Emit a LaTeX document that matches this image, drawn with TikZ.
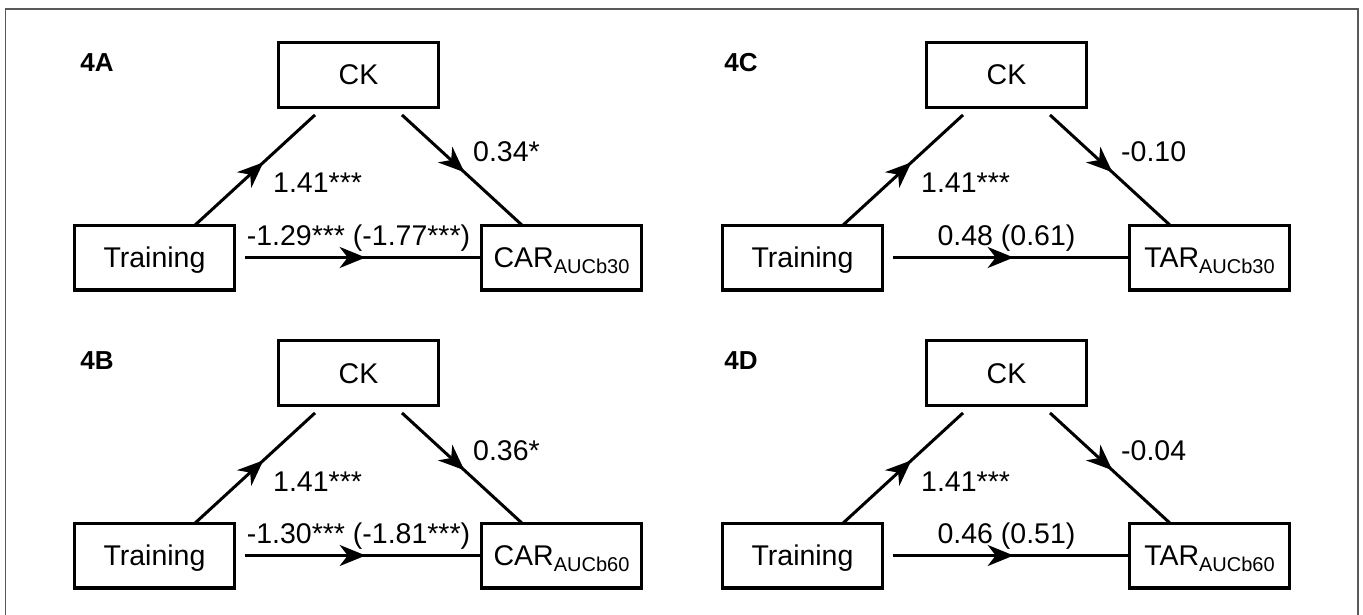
\documentclass[tikz,border=0pt]{standalone}
\usepackage{fontspec}
\setmainfont{Liberation Sans}
\usetikzlibrary{arrows.meta,decorations.markings,calc}
\tikzset{
  medbox/.style={draw=black, line width=3.3pt, minimum width=159.7pt, minimum height=64.7pt,
    inner sep=0pt, outer sep=0pt, font=\fontsize{28.5}{30}\selectfont, text height=20pt, text depth=0pt},
  medline/.style={line width=3pt},
  midarrow/.style={postaction={decorate}, decoration={markings,
    mark=at position #1 with {\arrow{Stealth[length=26pt,width=21pt,inset=8pt]}}}},
  coef/.style={font=\fontsize{28.5}{30}\selectfont, inner sep=0pt},
  panellabel/.style={font=\fontsize{26}{28}\selectfont\bfseries, inner sep=0pt},
  frameline/.style={draw=black!65, line width=1.5pt}
}
\newcommand{\subtxt}[1]{\raisebox{-6pt}{\fontsize{20}{20}\selectfont #1}}
% #1 id, #2 label, #3 dx, #4 dy, #5 outcome, #6 b coef, #7 c coef, #8 label x
\newcommand{\medpanel}[8]{%
  \begin{scope}[shift={(#3,#4)}]
    \node[panellabel] (lab#1) at (#8,62.5) {#2};
    \node[medbox] (ck#1) at (358.5,75) {CK};
    \node[medbox] (tr#1) at (154.5,257.5) {Training};
    \node[medbox] (out#1) at (561.5,257.5) {#5};
    \draw[medline, midarrow=0.57] ([xshift=40.5pt]tr#1.north) -- ([xshift=-43.5pt,yshift=-7.6pt]ck#1.south);
    \draw[medline, midarrow=0.52] ([xshift=43.5pt,yshift=-7.6pt]ck#1.south) -- ([xshift=-39.5pt]out#1.north);
    \draw[medline, midarrow=0.51] ([xshift=10.6pt]tr#1.east) -- (out#1.west);
    \node[coef, anchor=base west] (a#1) at (273,193) {1.41***};
    \node[coef, anchor=base west] (b#1) at (473,162) {#6};
    \node[coef, anchor=base] (c#1) at (358.5,245) {#7};
  \end{scope}}
\begin{document}
\begin{tikzpicture}[x=1pt,y=-1pt]
  \fill[white] (0,0) rectangle (1363,615);
  \useasboundingbox (0,0) rectangle (1363,615);
  \draw[frameline] (5.5,615) -- (5.5,9) -- (1358,9) -- (1358,615);
  \medpanel{A}{4A}{0}{0}{CAR\subtxt{AUCb30}}{0.34*}{-1.29*** (-1.77***)}{97}
  \medpanel{B}{4B}{0}{298}{CAR\subtxt{AUCb60}}{0.36*}{-1.30*** (-1.81***)}{97}
  \medpanel{C}{4C}{648}{0}{TAR\subtxt{AUCb30}}{-0.10}{0.48 (0.61)}{93}
  \medpanel{D}{4D}{648}{298}{TAR\subtxt{AUCb60}}{-0.04}{0.46 (0.51)}{93}
\end{tikzpicture}
\end{document}
